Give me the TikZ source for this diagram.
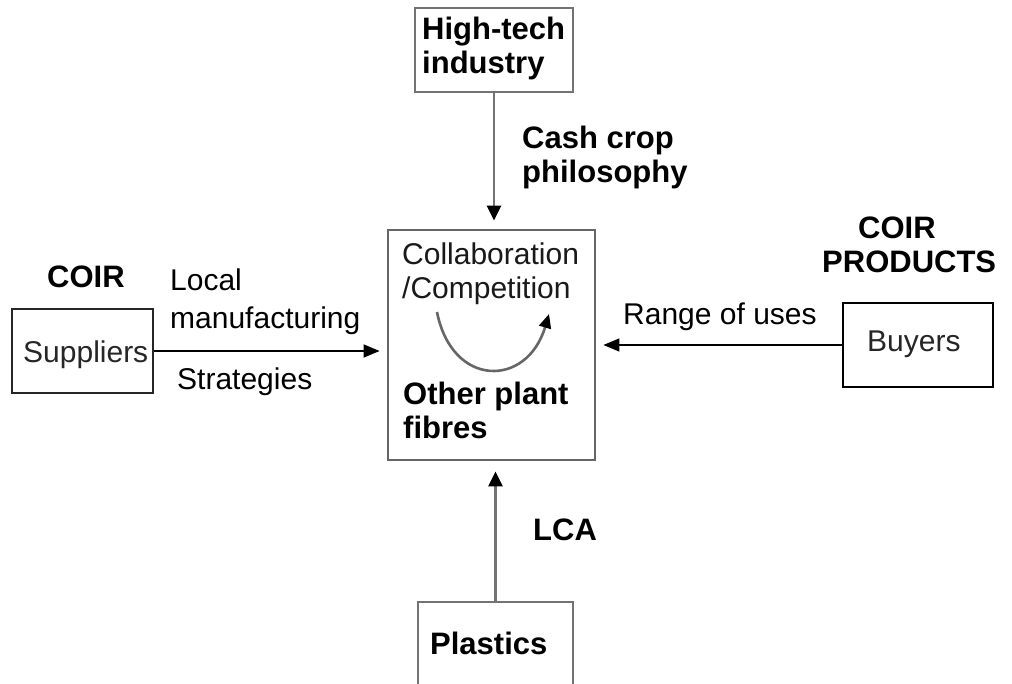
\documentclass[tikz,border=0pt]{standalone}
\usepackage{fontspec}
\setmainfont{Liberation Sans}
\usetikzlibrary{arrows.meta}
\begin{document}
\begin{tikzpicture}[x=1pt,y=-1pt,
  box/.style={draw=#1, line width=2pt, inner sep=0, rectangle},
  box/.default=black!70,
  lbl/.style={font=\fontsize{30}{34}\selectfont, inner sep=0, align=left, anchor=west},
  blbl/.style={font=\fontsize{31}{34}\selectfont\bfseries, inner sep=0, align=left, anchor=west},
  vlink/.style={draw=black!55, line width=2.6pt, -{Triangle[length=15pt,width=14pt,color=black]}},
  hlink/.style={draw=black, line width=1.4pt, -{Triangle[length=16pt,width=13pt]}}]
\clip (0,0) rectangle (1012,684);
\fill[white] (0,0) rectangle (1012,684);

% boxes
\node[box=black!55, minimum width=158pt, minimum height=84pt] (ht) at (494,50) {};
\node[box=black!60, line width=2.8pt, minimum width=207pt, minimum height=230pt] (core) at (491.5,345) {};
\node[box=black!85, minimum width=141pt, minimum height=84pt] (sup) at (82.5,351) {};
\node[box=black, line width=2.4pt, minimum width=150pt, minimum height=84pt] (buy) at (918,345) {};
\node[box=black!55, minimum width=155pt, minimum height=100pt] (pla) at (495.5,652) {};

% box texts
\node[blbl] (htt) at (422,48) {High-tech\\industry};
\node[lbl, text=black!90] (col) at (402,274) {Collaboration\\/Competition};
\node[blbl] (opf) at (403,410) {Other plant\\fibres};
\node[lbl, text=black!85] (supt) at (23,355) {Suppliers};
\node[lbl, text=black!85] (buyt) at (867,344) {Buyers};
\node[blbl] (plat) at (430,643) {Plastics};

% connector labels
\node[blbl] (ccp) at (522,157) {Cash crop\\philosophy};
\node[blbl] (coirl) at (47,277) {COIR};
\node[lbl] (lm) at (170,302) {Local\\[4pt]manufacturing};
\node[lbl] (str) at (177,382) {Strategies};
\node[blbl] (coirr) at (858,228) {COIR};
\node[blbl] (prod) at (822,262) {PRODUCTS};
\node[lbl] (rou) at (623,317) {Range of uses};
\node[blbl] (lca) at (533,530) {LCA};

% connectors
\draw[vlink, shorten >=8pt] (ht.south) -- (ht.south |- core.north);
\draw[vlink, shorten >=10pt] (pla.north) -- (pla.north |- core.south);
\draw[hlink, shorten >=7pt] (sup.east) -- (sup.east -| core.west);
\draw[hlink, shorten >=7pt] (buy.west) -- (buy.west -| core.east);

% cycle arrow inside the core box
\coordinate (cs) at (437,312);
\coordinate (ce) at (549,314);
\draw[draw=black!60, line width=2.6pt, -{Triangle[length=14pt,width=12pt,color=black]}]
  (cs) .. controls (452,388) and (527,388) .. (ce);
\end{tikzpicture}
\end{document}
